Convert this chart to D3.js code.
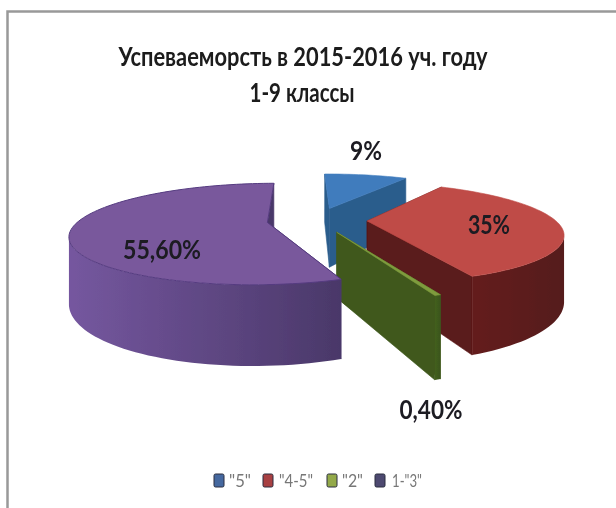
<!DOCTYPE html>
<html><head><meta charset="utf-8">
<script src="https://d3js.org/d3.v7.min.js"></script>
<style>html,body{margin:0;padding:0;background:#fff}svg{display:block}
text{font-family:Lato,"Open Sans",sans-serif}</style></head>
<body><svg id="c" width="616" height="508"></svg>
<script>
const titleLines=["Успеваеморсть в 2015-2016 уч. году","1-9 классы"];
const categories=['"5"','"4-5"','"2"','1-"3"'];
const values=[9,35,0.4,55.6];
const valueLabels=["9%","35%","0,40%","55,60%"];
const topColors=["#3f7cbd","#bf4b47","#7f9c3e","#79599c"];
const wallLeft=["#2f6596","#641e1e","#43601f","#75579f"];
const wallRight=["#27527c","#551a1a","#3a5419","#4a3869"];
const radialColors=["#2b5d8c","#5a1a1a","#40591d","#4a3869"];
const legendColors=["#44689f","#a83f42","#93a94a","#4d4870"];
const labelX=[366,489,431,162],labelY=[150,224,409,249];
const labelW=[32,42,63,78];
const legendX=[219,268,332,380],legendTextX=[229,279,342,392],legendTextW=[22,34,21,30];

const svg=d3.select("#c");
const defs=svg.append("defs");
defs.append("filter").attr("id","soft").attr("x","-2%").attr("y","-2%").attr("width","104%").attr("height","104%")
  .append("feGaussianBlur").attr("stdDeviation",.55);
const root=svg.append("g").attr("filter","url(#soft)");
const cx=317,cy=220,R=188,E=50,H=64,sinT=.25,cosT=Math.sqrt(1-sinT*sinT),K=.0012,rot=-1*Math.PI/180;
const arcs=d3.pie().sort(null).startAngle(rot).endAngle(rot+2*Math.PI)(values);
function project(a,r,z,mid){
  const X=r*Math.sin(a)+E*Math.sin(mid),Y=r*Math.cos(a)+E*Math.cos(mid),s=1/(1+K*Y);
  return [cx+X*s,cy+(-Y*sinT-z*cosT)*s];
}
const line=d3.line();
root.append("path").attr("d","M7.5 520V11.5H630").attr("fill","none").attr("stroke","#999").attr("stroke-width",2.5);
const g=root.append("g");
arcs.forEach((d,i)=>{
  const a0=d.startAngle,a1=d.endAngle,m=(a0+a1)/2,o=g.append("g");
  const n=Math.max(2,Math.ceil((a1-a0)/(Math.PI/90)));
  const as=d3.range(n+1).map(t=>a0+(a1-a0)*t/n);
  [a0,a1].forEach(a=>{
    const pts=[project(0,0,0,m),project(a,R,0,m),project(a,R,-H,m),project(0,0,-H,m)];
    o.append("path").attr("d",line(pts)+"Z").attr("fill",radialColors[i]).attr("stroke",radialColors[i]).attr("stroke-width",.6);
  });
  const candidates=as.filter(a=>Math.cos(a)<0.45);
  if(candidates.length>1){
    const xAt=a=>project(a,R,0,m)[0];
    const iMax=d3.greatestIndex(candidates,xAt),iMin=d3.leastIndex(candidates,xAt);
    const front=candidates.slice(Math.min(iMax,iMin),Math.max(iMax,iMin)+1);
    const upper=front.map(a=>project(a,R,0,m)),lower=front.map(a=>project(a,R,-H,m)).reverse();
    const xs=d3.extent(upper,p=>p[0]);
    const gid="wall"+i,gr=defs.append("linearGradient").attr("id",gid).attr("gradientUnits","userSpaceOnUse")
      .attr("x1",xs[0]).attr("x2",xs[1]).attr("y1",0).attr("y2",0);
    gr.append("stop").attr("offset",0).attr("stop-color",wallLeft[i]);
    gr.append("stop").attr("offset",1).attr("stop-color",wallRight[i]);
    o.append("path").attr("d",line([...upper,...lower])+"Z").attr("fill",`url(#${gid})`);
  }
  const top=[project(0,0,0,m),...as.map(a=>project(a,R,0,m))];
  o.append("path").attr("d",line(top)+"Z").attr("fill",topColors[i]).attr("stroke",i===3?"#553b80":topColors[i]).attr("stroke-width",i===3?1:.6);
});
const labels=root.append("g").attr("text-anchor","middle").attr("fill","#1c1a22").attr("font-size",26).attr("font-weight",700);
labels.selectAll("text").data(valueLabels).join("text")
 .attr("x",(d,i)=>labelX[i]).attr("y",(d,i)=>labelY[i]).attr("dominant-baseline","central")
 .attr("textLength",(d,i)=>labelW[i]).attr("lengthAdjust","spacingAndGlyphs").text(d=>d);
root.selectAll("text.t").data(titleLines).join("text").attr("class","t").attr("text-anchor","middle")
 .attr("x",(d,i)=>i?302:303).attr("y",(d,i)=>i?91:55).attr("dominant-baseline","central").attr("fill","#1a1a1a").attr("font-size",27).attr("font-weight",700)
 .attr("textLength",(d,i)=>i?105:369).attr("lengthAdjust","spacingAndGlyphs").text(d=>d);
const leg=root.append("g");
categories.forEach((c,i)=>{
  leg.append("rect").attr("x",legendX[i]-5).attr("y",474).attr("width",10).attr("height",13).attr("rx",1.5).attr("fill",legendColors[i]).attr("stroke","#2a2f3f").attr("stroke-width",1);
  leg.append("text").attr("x",legendTextX[i]).attr("y",480).attr("dominant-baseline","central").attr("font-size",17).attr("fill","#777")
   .attr("textLength",legendTextW[i]).attr("lengthAdjust","spacingAndGlyphs").text(c);
});
</script></body></html>
